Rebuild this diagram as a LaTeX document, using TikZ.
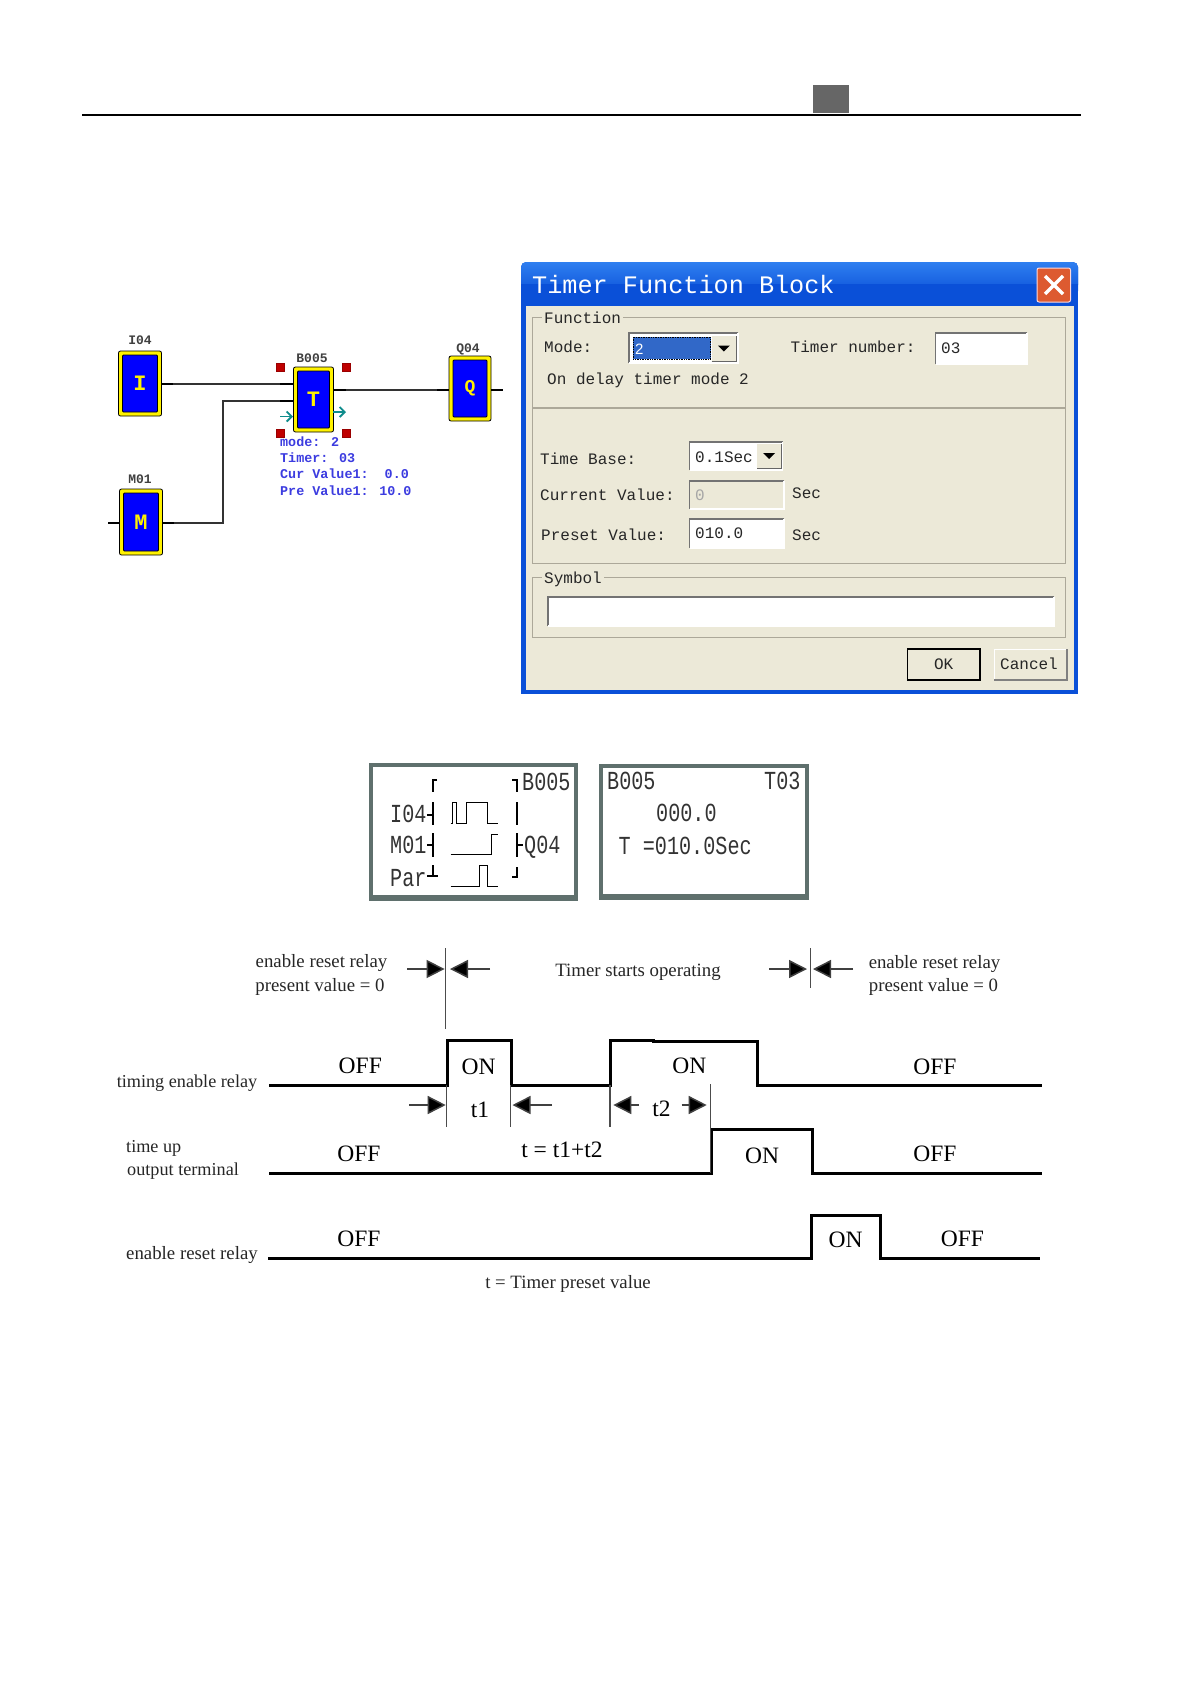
\documentclass[tikz,border=0pt]{standalone}
\usepackage{fontspec}
\usetikzlibrary{arrows.meta}
\setmainfont{Liberation Serif}
\newfontfamily\monof{Liberation Mono}
\newfontfamily\sansf{Liberation Sans}
\newfontfamily\lcdf[FakeStretch=0.775]{Liberation Mono}
\definecolor{dlgbg}{HTML}{ECE9D8}
\definecolor{grp}{HTML}{ACA899}
\definecolor{xpblue}{HTML}{0A50D8}
\definecolor{xplight}{HTML}{2F7FF0}
\definecolor{lcdb}{HTML}{5F706D}
\definecolor{blocktext}{HTML}{3C3CE0}
\definecolor{teal2}{HTML}{0F8C8C}
\definecolor{selblue}{HTML}{3168C8}
\definecolor{closered}{HTML}{DD5A30}
\tikzset{
  blockout/.style={draw=black,line width=.8pt,fill=yellow,inner sep=0pt,rounded corners=2pt},
  blockin/.style={draw=black,line width=.8pt,fill=blue,inner sep=0pt,text=yellow,font=\monof\bfseries\fontsize{22}{22}\selectfont,rounded corners=1pt},
  blocklab/.style={inner sep=0pt,font=\monof\bfseries\fontsize{13}{14}\selectfont,text=black!75},
  wirethin/.style={draw=black!80,line width=1.1pt},
  wirestub/.style={draw=black,line width=2pt},
  redmark/.style={fill=red!75!black,draw=red!60!black,line width=.5pt,minimum size=8pt,inner sep=0pt},
  tealarrow/.style={draw=teal2,line width=1.9pt,-{Straight Barb[length=5pt,width=10pt]}},
  infotext/.style={anchor=west,inner sep=0pt,text height=6pt,text depth=0pt,text=blocktext,font=\monof\bfseries\fontsize{13.4}{14}\selectfont},
  dlg/.style={anchor=west,inner sep=0pt,text height=10pt,text depth=0pt,text=black!85,font=\monof\fontsize{16}{18}\selectfont},
  lcdtext/.style={anchor=west,inner sep=0pt,text height=17pt,text depth=0pt,text=black!80,font=\lcdf\fontsize{26}{28}\selectfont},
  lcdrect/.style={draw=lcdb,line width=3.5pt,fill=white},
  lcdmark/.style={draw=black,line width=2.6pt},
  lcdwave/.style={draw=black,line width=1pt},
  small/.style={inner sep=0pt,text height=12pt,text depth=0pt,text=black!85,font=\fontsize{18.8}{20}\selectfont},
  smaller/.style={inner sep=0pt,text height=12pt,text depth=0pt,text=black!85,font=\fontsize{18.2}{20}\selectfont},
  big/.style={inner sep=0pt,text height=15pt,text depth=0pt,text=black,font=\fontsize{23.5}{26}\selectfont},
  sig/.style={draw=black,line width=3pt,line join=miter},
  guide/.style={draw=black!70,line width=1.5pt},
  dimarrow/.style={draw=black!75,line width=1.5pt,-{Triangle[length=18pt,width=18pt,fill=black]}},
  group/.style={draw=grp,line width=1pt},
}
\newcommand{\fblock}[7][22]{%
  \node[blockout,minimum width=#5pt,minimum height=#6pt] (#2) at (#3,#4) {};
  \node[blockin,minimum width=#5pt-8pt,minimum height=#6pt-8pt] (#2in) at (#3,#4) {\fontsize{#1}{#1}\selectfont #7};
}
\newcommand{\sunken}[5]{%
  \fill[#5] (#1,#2) rectangle (#3,#4);
  \draw[black!55,line width=1.2pt] (#1,#4) -- (#1,#2) -- (#3,#2);
  \draw[white,line width=1.2pt] (#1,#4) -- (#3,#4) -- (#3,#2);
}
\newcommand{\dropbtn}[4]{%
  \fill[dlgbg] (#1,#2) rectangle (#3,#4);
  \draw[black!60,line width=1pt] (#1,#4) -- (#3,#4) -- (#3,#2);
  \fill[black] ({(#1+#3)/2-6},{(#2+#4)/2-3}) -- ({(#1+#3)/2+6},{(#2+#4)/2-3}) -- ({(#1+#3)/2},{(#2+#4)/2+3}) -- cycle;
}
\begin{document}
\begin{tikzpicture}[x=1pt,y=-1pt]
\useasboundingbox (0,0) rectangle (1191,1684);
\fill[white] (0,0) rectangle (1191,1684);

% header
\draw[black,line width=2pt] (82,114.5) -- (1081,114.5);
\fill[black!60] (813,84.7) rectangle (849,112.7);

% function block diagram
\fblock{I}{140}{383.5}{43}{65}{I}
\fblock{T}{313.5}{399.5}{40}{65}{T}
\fblock[18]{Q}{470}{388.5}{42}{65}{Q}
\fblock{M}{141}{522}{43}{66}{M}
\node[blocklab] (Il) at (140,340) {I04};
\node[blocklab] (Tl) at (312,358) {B005};
\node[blocklab] (Ql) at (468,349) {Q04};
\node[blocklab] (Ml) at (140,479) {M01};
\coordinate (Tin1) at (293,384);
\coordinate (Tin2) at (293,401);
\coordinate (Tout) at (333,390);
\coordinate (Qin) at (449,390);
\coordinate (Iout) at (162,384);
\coordinate (Mout) at (163,523);
\coordinate (Mbend) at (223,523);
\coordinate (Tbend) at (223,401);
\coordinate (Mleft) at (108,523);
\coordinate (Mleftend) at (119,523);
\coordinate (Qout) at (491,390);
\coordinate (Qoutend) at (503,390);
\draw[wirethin] (Iout) -- (Tin1);
\draw[wirethin] (Mout) -- (Mbend) -- (Tbend) -- (Tin2);
\draw[wirethin] (Tout) -- (Qin);
\draw[wirestub] (Iout) -- ++(11,0);
\draw[wirestub] (Tin1) -- ++(-13,0);
\draw[wirestub] (Tin2) -- ++(-13,0);
\draw[wirestub] (Mout) -- ++(11,0);
\draw[wirestub] (Tout) -- ++(13,0);
\draw[wirestub] (Qin) -- ++(-12,0);
\draw[wirestub] (Mleft) -- (Mleftend);
\draw[wirestub] (Qout) -- (Qoutend);
\node[redmark] (r1) at (280,367) {};
\node[redmark] (r2) at (346,367) {};
\node[redmark] (r3) at (280,433) {};
\node[redmark] (r4) at (346,433) {};
\coordinate (ta1) at (280,416.5);
\coordinate (ta2) at (293,416.5);
\coordinate (ta3) at (333,412);
\coordinate (ta4) at (346,412);
\draw[tealarrow] (ta1) -- (ta2);
\draw[tealarrow] (ta3) -- (ta4);
\node[infotext] (i1) at (280,443) {mode: 2};
\node[infotext] (i2) at (280,459) {Timer: 03};
\node[infotext] (i3) at (280,475) {Cur Value1:\ \ 0.0};
\node[infotext] (i4) at (280,492) {Pre Value1: 10.0};

% dialog
\fill[xpblue,rounded corners=5pt] (521,262) rectangle (1078,290);
\shade[top color=xplight,bottom color=xpblue,rounded corners=5pt] (521,262) rectangle (1078,296);
\fill[xpblue] (521,284) rectangle (1078,694);
\fill[dlgbg] (525.5,306) rectangle (1073.5,690);
\node[anchor=west,inner sep=0pt,text height=17pt,text depth=0pt,text=white,font=\monof\fontsize{25.2}{27}\selectfont] (title) at (532,285) {Timer Function Block};
\draw[white!85!red,line width=1pt,fill=closered,rounded corners=2pt] (1037,268) rectangle (1070.5,302);
\draw[white,line width=3.5pt] (1045,276) -- (1063,294) (1063,276) -- (1045,294);

\draw[group] (532,317) rectangle (1065,407);
\draw[group] (532,408) rectangle (1065,563);
\draw[group] (532,577) rectangle (1065,637);
\node[dlg,fill=dlgbg,inner xsep=2pt] (lf) at (542,318) {Function};
\node[dlg,fill=dlgbg,inner xsep=2pt] (ls) at (542,578) {Symbol};
\node[dlg] (lm) at (544,347) {Mode:};
\sunken{629}{333}{738}{363}{white}
\fill[selblue] (633,337) rectangle (710.5,359);
\draw[black,densely dotted,line width=.7pt] (633,337) rectangle (710.5,359);
\node[dlg,text=white,font=\sansf\fontsize{15}{18}\selectfont] (lm2) at (635,349) {2};
\dropbtn{711.5}{336}{736}{361}
\node[dlg] (ltn) at (790.5,347) {Timer number:};
\sunken{935.5}{333}{1027}{364}{white}
\node[dlg] (ltn2) at (941,348) {03};
\node[dlg] (lon) at (547,379) {On delay timer mode 2};

\node[dlg] (ltb) at (540,459) {Time Base:};
\sunken{689.5}{442}{782.5}{470}{white}
\dropbtn{757}{444}{781}{468}
\node[dlg] (ltb2) at (695,457) {0.1Sec};
\node[dlg] (lcv) at (540,495) {Current Value:};
\sunken{689.5}{481}{784}{509}{dlgbg}
\node[dlg,text=black!35] (lcv2) at (695,495) {0};
\node[dlg] (ls1) at (792,493) {Sec};
\node[dlg] (lpv) at (541,535) {Preset Value:};
\sunken{689.5}{519}{784}{548}{white}
\node[dlg] (lpv2) at (695,533) {010.0};
\node[dlg] (ls2) at (792,535) {Sec};
\sunken{548}{597}{1054}{626}{white}

\draw[black,line width=1.4pt] (907.7,649) rectangle (980,680);
\node[dlg,anchor=center] (ok) at (943.6,664) {OK};
\draw[white,line width=1pt] (994,680) -- (994,649) -- (1067,649);
\draw[black!50,line width=1.2pt] (994,680) -- (1067,680) -- (1067,649);
\node[dlg,anchor=center] (cancel) at (1029,664) {Cancel};

% LCD 1
\draw[lcdrect] (371,765) rectangle (576,897);
\fill[lcdb] (369,895) rectangle (578,901);
\node[lcdtext] (l1) at (522,782) {B005};
\node[lcdtext] (l2) at (390,814) {I04};
\node[lcdtext] (l3) at (390,845) {M01};
\node[lcdtext] (l4) at (390,878) {Par};
\node[lcdtext] (l5) at (524,845) {Q04};
\draw[lcdmark] (437,780) -- (433,780) -- (433,792);
\draw[lcdmark] (433,802) -- (433,825) (427,815) -- (433,815);
\draw[lcdmark] (433,833) -- (433,857) (427,845) -- (433,845);
\draw[lcdmark] (433,865) -- (433,876) (427,876) -- (438,876);
\draw[lcdmark] (512,780) -- (517,780) -- (517,792);
\draw[lcdmark] (517,802) -- (517,825);
\draw[lcdmark] (517,833) -- (517,857) (517,845) -- (523,845);
\draw[lcdmark] (517,867) -- (517,877) -- (512,877);
\draw[lcdwave] (450.7,823) -- (452.7,823) -- (452.7,802) -- (456,802) -- (456,823) -- (466.7,823) -- (466.7,802) -- (487.7,802) -- (487.7,823) -- (498.3,823);
\draw[lcdwave] (450.7,854.3) -- (491.7,854.3) -- (491.7,834.3) -- (498.3,834.3);
\draw[lcdwave] (450.7,886) -- (479.3,886) -- (479.3,865.7) -- (487.7,865.7) -- (487.7,886) -- (498.3,886);

% LCD 2
\draw[lcdrect] (601,766) rectangle (807,896);
\fill[lcdb] (599,894) rectangle (809,900);
\node[lcdtext] (m1) at (607,781) {B005};
\node[lcdtext] (m2) at (764,781) {T03};
\node[lcdtext] (m3) at (656,813) {000.0};
\node[lcdtext] (m4) at (618.5,846) {T =010.0Sec};

% timing chart
\draw[sig] (269,1085.3) -- (447,1085.3) -- (447,1040.7) -- (511.4,1040.7) -- (511.4,1085.3) -- (610.7,1085.3) -- (610.7,1040) -- (653,1040) -- (653,1041) -- (757.3,1041) -- (757.3,1085.3) -- (1041.7,1085.3);
\draw[sig] (269,1173.7) -- (711.7,1173.7) -- (711.7,1129.3) -- (812.7,1129.3) -- (812.7,1173.7) -- (1041.7,1173.7);
\draw[sig] (268,1258.7) -- (811,1258.7) -- (811,1215) -- (880.7,1215) -- (880.7,1258.7) -- (1040,1258.7);

\coordinate (g1a) at (445.4,948);
\coordinate (g1b) at (445.4,1029);
\coordinate (g2a) at (810.3,948);
\coordinate (g2b) at (810.3,988);
\draw[guide] (g1a) -- (g1b);
\draw[guide] (g2a) -- (g2b);
\coordinate (a1t) at (407,969);  \coordinate (a1h) at (444.6,969);
\coordinate (a2t) at (490,969);  \coordinate (a2h) at (450,969);
\coordinate (a3t) at (769,969);  \coordinate (a3h) at (807,969);
\coordinate (a4t) at (853,969);  \coordinate (a4h) at (813,969);
\coordinate (a5t) at (409,1105); \coordinate (a5h) at (445.7,1105);
\coordinate (a6t) at (552,1105); \coordinate (a6h) at (512.5,1105);
\coordinate (a7t) at (639,1105); \coordinate (a7h) at (613.3,1105);
\coordinate (a8t) at (681.7,1105); \coordinate (a8h) at (706.7,1105);
\foreach \n in {1,...,8} {\draw[dimarrow] (a\n t) -- (a\n h);}
\coordinate (v1a) at (446.4,1085); \coordinate (v1b) at (446.4,1127);
\coordinate (v2a) at (510.7,1085); \coordinate (v2b) at (510.7,1127);
\coordinate (v3a) at (610,1085);   \coordinate (v3b) at (610,1127);
\coordinate (v4a) at (710.7,1084); \coordinate (v4b) at (710.7,1173);
\draw[guide] (v1a) -- (v1b);
\draw[guide] (v2a) -- (v2b);
\draw[guide] (v3a) -- (v3b);
\draw[guide] (v4a) -- (v4b);

\node[small,anchor=center] (s1) at (321.5,961) {enable reset relay};
\node[small,anchor=center] (s2) at (320,985) {present value = 0};
\node[small,anchor=center] (s3) at (638,970) {Timer starts operating};
\node[small,anchor=center] (s4) at (934.5,962) {enable reset relay};
\node[small,anchor=center] (s5) at (933.5,985) {present value = 0};
\node[smaller,anchor=center] (s6) at (187,1081) {timing enable relay};
\node[smaller,anchor=west] (s7) at (126,1146) {time up};
\node[smaller,anchor=west] (s8) at (127,1169) {output terminal};
\node[small,anchor=center] (s9) at (192,1253) {enable reset relay};
\node[small,anchor=center] (s10) at (568,1282) {t = Timer preset value};

\node[big] (o1) at (360.3,1066) {OFF};
\node[big] (o2) at (478.5,1067) {ON};
\node[big] (o3) at (689.3,1066) {ON};
\node[big] (o4) at (935,1067) {OFF};
\node[big] (t1) at (480,1110) {t1};
\node[big] (t2) at (661.5,1109) {t2};
\node[big] (tt) at (562,1150) {t = t1+t2};
\node[big] (o5) at (359,1154) {OFF};
\node[big] (o6) at (762,1156) {ON};
\node[big] (o7) at (935,1154) {OFF};
\node[big] (o8) at (359,1239) {OFF};
\node[big] (o9) at (845.5,1240) {ON};
\node[big] (o10) at (962.5,1239) {OFF};
\end{tikzpicture}
\end{document}
